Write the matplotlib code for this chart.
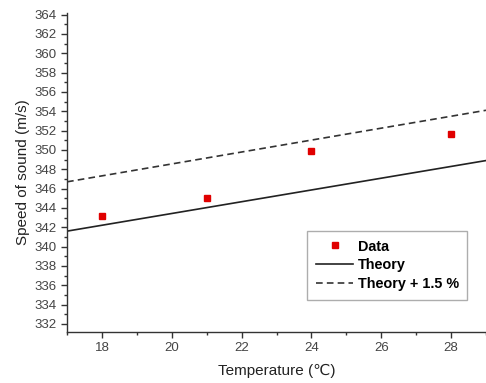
import matplotlib
matplotlib.use("Agg")
import matplotlib.pyplot as plt
from matplotlib.ticker import MultipleLocator

plt.rcParams['font.family'] = ['Liberation Sans', 'DejaVu Sans']

# measured points
temp_data = [18, 21, 24, 28]
speed_data = [343.2, 345.0, 349.9, 351.6]

# theory lines (end points)
temp_line = [17, 29]
speed_theory = [341.6, 348.9]
speed_theory_plus = [346.7, 354.1]

fig = plt.figure(figsize=(4.86, 3.83), dpi=100)
fig.patch.set_facecolor('#ffffff')
ax = fig.add_axes([0.138, 0.134, 0.862, 0.833])

ax.plot(temp_data, speed_data, 's', color='#e00000', markersize=4.5,
        linestyle='none', label='Data')
ax.plot(temp_line, speed_theory, '-', color='#222222', linewidth=1.2,
        label='Theory')
ax.plot(temp_line, speed_theory_plus, '--', color='#333333', linewidth=1.2,
        dashes=(4, 2.5), label='Theory + 1.5 %')

ax.set_xlim(17, 29)
ax.set_ylim(331.2, 364.2)
ax.xaxis.set_major_locator(MultipleLocator(2))
ax.xaxis.set_minor_locator(MultipleLocator(1))
ax.yaxis.set_minor_locator(MultipleLocator(1))
ax.set_yticks(range(332, 365, 2))

ax.spines['top'].set_visible(False)
ax.spines['right'].set_visible(False)
for s in ('left', 'bottom'):
    ax.spines[s].set_linewidth(1.0)
    ax.spines[s].set_color('#333333')

ax.tick_params(which='major', direction='out', length=4, width=1,
               colors='#333333', labelsize=9.5, labelcolor='#444444')
ax.tick_params(which='minor', direction='out', length=2.5, width=1,
               colors='#333333')

ax.set_xlabel('Temperature (\u2103)', fontsize=11, color='#222222',
              labelpad=7)
ax.set_ylabel('Speed of sound (m/s)', fontsize=11, color='#222222',
              labelpad=3)

leg = ax.legend(loc='upper left', bbox_to_anchor=(0.573, 0.316),
                borderaxespad=0, frameon=True, fancybox=False,
                prop={'weight': 'bold', 'size': 10.4}, handlelength=2.6,
                handletextpad=0.3, borderpad=0.6, labelspacing=0.33)
leg.get_frame().set_edgecolor('#999999')
leg.get_frame().set_linewidth(1.0)

fig.savefig('out.png', dpi=100)
